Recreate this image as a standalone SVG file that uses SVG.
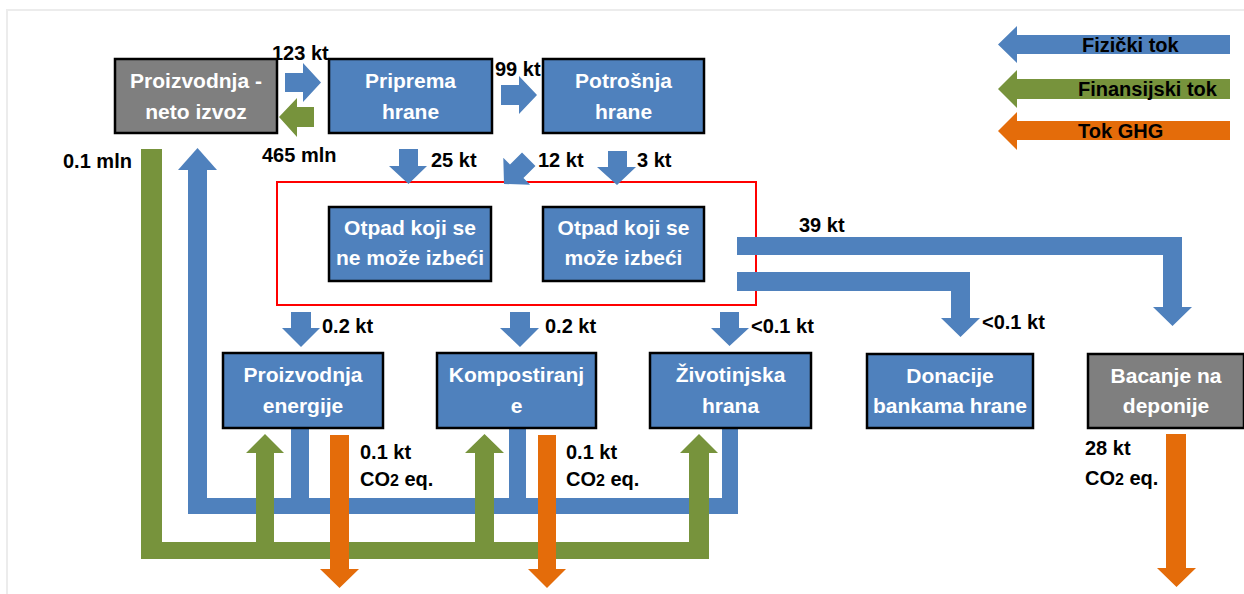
<svg xmlns="http://www.w3.org/2000/svg" width="1244" height="594" viewBox="0 0 1244 594">
<style>
.node rect{stroke:#000;stroke-width:2.5}
.b{fill:#4F81BD}
.g{fill:#77933C}
.o{fill:#E46C0A}
.gr{fill:#7F7F7F}
.nt{font-family:"Liberation Sans",Arial,sans-serif;font-weight:bold;font-size:21px;fill:#fff;text-anchor:middle}
.lb{font-family:"Liberation Sans",Arial,sans-serif;font-weight:bold;font-size:20px;fill:#000}
.sub{font-size:16px}
</style>
<rect x="7" y="10" width="1245" height="600" fill="#fff" stroke="#ececec" stroke-width="2"/>

<rect id="waste-box" x="277" y="182" width="479" height="123" fill="none" stroke="#FF0000" stroke-width="2"/>

<g id="connectors">
  <!-- top flows -->
  <polygon class="b" points="285,73 303,73 303,63 321,82.5 303,102 303,92 285,92"/>
  <polygon class="g" points="314,107 297,107 297,98 279,117 297,137 297,127 314,127"/>
  <polygon class="b" points="501,85 519,85 519,76 537,95 519,114 519,105 501,105"/>
  <!-- into waste box -->
  <polygon class="b" points="399,149 418,149 418,166 427,166 408.5,184 389,166 399,166"/>
  <polygon class="b" transform="translate(504,184) rotate(45)" points="-9.5,-35 9.5,-35 9.5,-18 19,-18 0,0 -19,-18 -9.5,-18"/>
  <polygon class="b" points="608,151 627,151 627,167 636,167 617,185 597,167 608,167"/>
  <!-- out of waste box -->
  <polygon class="b" points="291,312 311,312 311,328 320,328 301,347 282,328 291,328"/>
  <polygon class="b" points="510,312 530,312 530,328 539,328 520,347 500,328 510,328"/>
  <polygon class="b" points="720,312 739,312 739,328 749,328 729.5,346 711,328 720,328"/>
  <polygon class="b" points="737,237 1182,237 1182,307 1192,307 1172.5,326 1153,307 1163,307 1163,255 737,255"/>
  <polygon class="b" points="737,272 970,272 970,318 980,318 960.5,337 941,318 951,318 951,291 737,291"/>
  <!-- blue return -->
  <rect class="b" x="188" y="169" width="19" height="345"/>
  <polygon class="b" points="178,170 197.5,148 217,170"/>
  <rect class="b" x="188" y="498" width="550" height="16"/>
  <rect class="b" x="291" y="428" width="18" height="72"/>
  <rect class="b" x="509" y="428" width="17" height="72"/>
  <rect class="b" x="722" y="428" width="16" height="72"/>
  <!-- green financial -->
  <rect class="g" x="141" y="149" width="21" height="410"/>
  <rect class="g" x="141" y="542" width="568" height="17"/>
  <polygon class="g" points="256,542 256,453 246,453 265,434 284,453 274,453 274,542"/>
  <polygon class="g" points="475,542 475,453 465,453 484.5,434 504,453 494,453 494,542"/>
  <polygon class="g" points="689,542 689,453 680,453 699,434 718,453 709,453 709,542"/>
  <!-- orange GHG -->
  <polygon class="o" points="330,435 349,435 349,569 359,569 339.5,588 320,569 330,569"/>
  <polygon class="o" points="538,435 556,435 556,569 566,569 547,588 528,569 538,569"/>
  <polygon class="o" points="1166,434 1186,434 1186,568 1196,568 1176.5,587 1157,568 1166,568"/>
</g>

<g id="labels">
  <text class="lb" x="272" y="60">123 kt</text>
  <text class="lb" x="262" y="162">465 mln</text>
  <text class="lb" x="63" y="168">0.1 mln</text>
  <text class="lb" x="495" y="76">99 kt</text>
  <text class="lb" x="431" y="167">25 kt</text>
  <text class="lb" x="538" y="167">12 kt</text>
  <text class="lb" x="637" y="167">3 kt</text>
  <text class="lb" x="799" y="232">39 kt</text>
  <text class="lb" x="982" y="329">&lt;0.1 kt</text>
  <text class="lb" x="322" y="333">0.2 kt</text>
  <text class="lb" x="545" y="333">0.2 kt</text>
  <text class="lb" x="751" y="333">&lt;0.1 kt</text>
  <text class="lb" x="360" y="459">0.1 kt</text>
  <text class="lb" x="360" y="486">CO<tspan class="sub">2</tspan> eq.</text>
  <text class="lb" x="566" y="459">0.1 kt</text>
  <text class="lb" x="566" y="486">CO<tspan class="sub">2</tspan> eq.</text>
  <text class="lb" x="1085" y="455">28 kt</text>
  <text class="lb" x="1085" y="485">CO<tspan class="sub">2</tspan> eq.</text>
</g>

<g id="n-proizvodnja" class="node">
  <rect class="gr" x="115" y="59" width="162" height="74"/>
  <text class="nt" x="196" y="88">Proizvodnja -</text>
  <text class="nt" x="196" y="119">neto izvoz</text>
</g>
<g id="n-priprema" class="node">
  <rect class="b" x="329" y="59" width="163" height="74"/>
  <text class="nt" x="410.5" y="88">Priprema</text>
  <text class="nt" x="410.5" y="119">hrane</text>
</g>
<g id="n-potrosnja" class="node">
  <rect class="b" x="543" y="59" width="161" height="74"/>
  <text class="nt" x="623.5" y="88">Potrošnja</text>
  <text class="nt" x="623.5" y="119">hrane</text>
</g>
<g id="n-otpad-ne" class="node">
  <rect class="b" x="329" y="207" width="162" height="74"/>
  <text class="nt" x="410" y="235">Otpad koji se</text>
  <text class="nt" x="410" y="265">ne može izbeći</text>
</g>
<g id="n-otpad-moze" class="node">
  <rect class="b" x="543" y="207" width="161" height="74"/>
  <text class="nt" x="623.5" y="235">Otpad koji se</text>
  <text class="nt" x="623.5" y="265">može izbeći</text>
</g>
<g id="n-energija" class="node">
  <rect class="b" x="223" y="353" width="160" height="75"/>
  <text class="nt" x="303" y="382">Proizvodnja</text>
  <text class="nt" x="303" y="413">energije</text>
</g>
<g id="n-kompost" class="node">
  <rect class="b" x="437" y="353" width="159" height="75"/>
  <text class="nt" x="516.5" y="382">Kompostiranj</text>
  <text class="nt" x="516.5" y="413">e</text>
</g>
<g id="n-zivotinjska" class="node">
  <rect class="b" x="650" y="353" width="161" height="75"/>
  <text class="nt" x="730.5" y="382">Životinjska</text>
  <text class="nt" x="730.5" y="413">hrana</text>
</g>
<g id="n-donacije" class="node">
  <rect class="b" x="867" y="354" width="166" height="74"/>
  <text class="nt" x="950" y="383">Donacije</text>
  <text class="nt" x="950" y="413">bankama hrane</text>
</g>
<g id="n-deponije" class="node">
  <rect class="gr" x="1088" y="354" width="156" height="74"/>
  <text class="nt" x="1166" y="383">Bacanje na</text>
  <text class="nt" x="1166" y="413">deponije</text>
</g>

<g id="legend">
  <polygon class="b" points="1230,35 1017,35 1017,26 998,44.5 1017,63 1017,54 1230,54"/>
  <polygon class="g" points="1230,79 1017,79 1017,70 998,89 1017,108 1017,99 1230,99"/>
  <polygon class="o" points="1230,121 1017,121 1017,112 998,131 1017,150 1017,140 1230,140"/>
  <text class="lb" x="1082" y="52">Fizički tok</text>
  <text class="lb" x="1078" y="96">Finansijski tok</text>
  <text class="lb" x="1078" y="138">Tok GHG</text>
</g>
</svg>
